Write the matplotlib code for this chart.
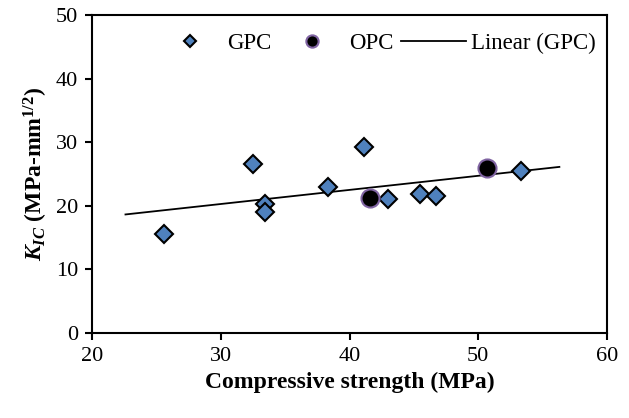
import numpy as np
import matplotlib
matplotlib.use("Agg")
import matplotlib.pyplot as plt

# datos
gpc_x = [25.6, 32.5, 33.4, 33.4, 38.3, 41.1, 43.0, 45.5, 46.7, 53.3]
gpc_y = [15.6, 26.5, 20.3, 19.1, 22.9, 29.3, 21.0, 21.8, 21.5, 25.4]
opc_x = [41.6, 50.7]
opc_y = [21.3, 25.9]

plt.rcParams['font.family'] = ['Liberation Serif', 'DejaVu Serif']
plt.rcParams['mathtext.fontset'] = 'custom'
plt.rcParams['mathtext.rm'] = 'Liberation Serif:bold'
plt.rcParams['mathtext.it'] = 'Liberation Serif:bold:italic'
plt.rcParams['mathtext.bf'] = 'Liberation Serif:bold'

fig = plt.figure(figsize=(6.29, 4.18), dpi=100)
ax = fig.add_axes([92/629, 1-333/418, 515/629, 318/418])

# linea de tendencia (ajuste lineal de GPC, extendida 3 unidades)
m, b = np.polyfit(gpc_x, gpc_y, 1)
xt = np.array([min(gpc_x)-3, max(gpc_x)+3])

ax.plot(gpc_x, gpc_y, 'D', color='#4F81BD', mec='black', mew=1.5, ms=9.5, label='GPC', zorder=3)
ax.plot(opc_x, opc_y, 'o', color='black', mec='#8064A2', mew=1.5, ms=13, label='OPC', zorder=4)
ax.plot(xt, m*xt+b, '-', color='black', lw=1.3, label='Linear (GPC)', zorder=2)

ax.set_xlim(20, 60)
ax.set_ylim(0, 50)
ax.set_xticks([20, 30, 40, 50, 60])
ax.set_yticks([0, 10, 20, 30, 40, 50])
ax.tick_params(direction='out', length=5, width=1.5, labelsize=16, pad=5)
for s in ax.spines.values():
    s.set_linewidth(1.5)

ax.set_xlabel('Compressive strength (MPa)', fontsize=17, fontweight='bold', labelpad=4)
ax.set_ylabel(r'$K_{IC}$ (MPa-mm$^{1/2}$)', fontsize=17, fontweight='bold', labelpad=4)

ax.legend(loc='center right', bbox_to_anchor=(0.995, 0.912), ncol=3, frameon=False,
          fontsize=16.5, handlelength=2.85, handletextpad=0.18, columnspacing=0.35,
          borderaxespad=0, markerscale=0.68)

fig.savefig('out.png', dpi=100)
